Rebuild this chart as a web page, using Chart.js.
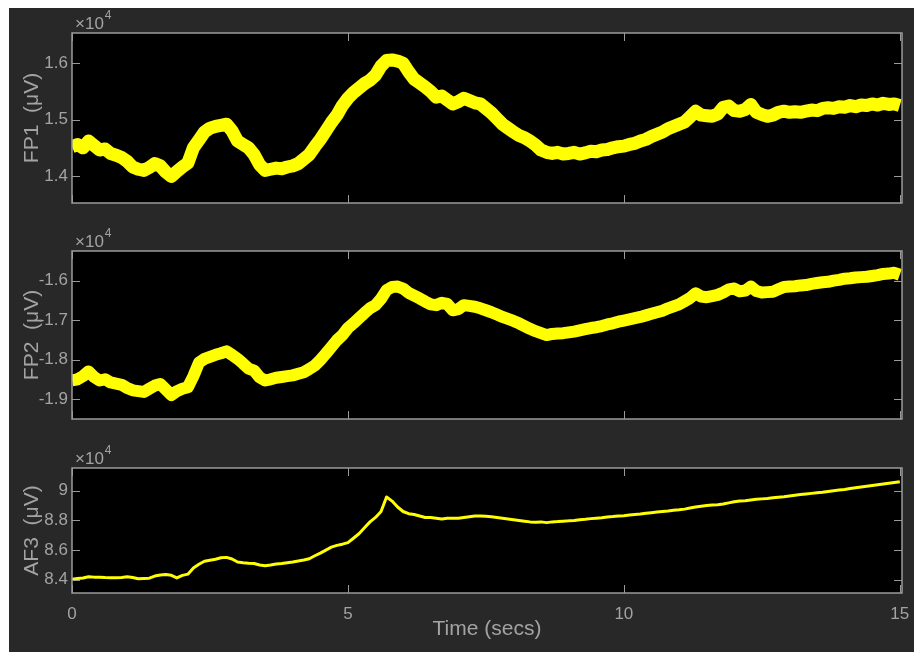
<!DOCTYPE html>
<html>
<head>
<meta charset="utf-8">
<title>EEG channels FP1 / FP2 / AF3</title>
<script src="https://cdn.jsdelivr.net/npm/chart.js@4/dist/chart.umd.min.js"></script>
<style>
	html, body { margin: 0; padding: 0; background: #ffffff; overflow: hidden; }
	#figure { position: absolute; left: 9px; top: 8px; width: 905px; height: 644px; background: #282828; }
	canvas { position: absolute; left: 0; }
</style>
</head>
<body>
<div id="figure"></div>
<canvas id="chartFP1" width="914" height="220" style="top:0px"></canvas>
<canvas id="chartFP2" width="914" height="220" style="top:220px"></canvas>
<canvas id="chartAF3" width="914" height="212" style="top:440px"></canvas>
<script>
/**
 * Three EEG channels, 15 seconds, drawn like a MATLAB dark figure.
 */

// Time (secs), one reading every 0.1 s
var TIME = [
	0, 0.1, 0.2, 0.3, 0.4, 0.5, 0.6, 0.7, 0.8, 0.9,
	1, 1.1, 1.2, 1.3, 1.4, 1.5, 1.6, 1.7, 1.8, 1.9,
	2, 2.1, 2.2, 2.3, 2.4, 2.5, 2.6, 2.7, 2.8, 2.9,
	3, 3.1, 3.2, 3.3, 3.4, 3.5, 3.6, 3.7, 3.8, 3.9,
	4, 4.1, 4.2, 4.3, 4.4, 4.5, 4.6, 4.7, 4.8, 4.9,
	5, 5.1, 5.2, 5.3, 5.4, 5.5, 5.6, 5.7, 5.8, 5.9,
	6, 6.1, 6.2, 6.3, 6.4, 6.5, 6.6, 6.7, 6.8, 6.9,
	7, 7.1, 7.2, 7.3, 7.4, 7.5, 7.6, 7.7, 7.8, 7.9,
	8, 8.1, 8.2, 8.3, 8.4, 8.5, 8.6, 8.7, 8.8, 8.9,
	9, 9.1, 9.2, 9.3, 9.4, 9.5, 9.6, 9.7, 9.8, 9.9,
	10, 10.1, 10.2, 10.3, 10.4, 10.5, 10.6, 10.7, 10.8, 10.9,
	11, 11.1, 11.2, 11.3, 11.4, 11.5, 11.6, 11.7, 11.8, 11.9,
	12, 12.1, 12.2, 12.3, 12.4, 12.5, 12.6, 12.7, 12.8, 12.9,
	13, 13.1, 13.2, 13.3, 13.4, 13.5, 13.6, 13.7, 13.8, 13.9,
	14, 14.1, 14.2, 14.3, 14.4, 14.5, 14.6, 14.7, 14.8, 14.9,
	15
];

// FP1 (uV)
var FP1 = [
	14520, 14560, 14500, 14620, 14540, 14460, 14480, 14400, 14370, 14330,
	14260, 14160, 14120, 14100, 14150, 14220, 14180, 14070, 13990, 14080,
	14160, 14230, 14500, 14640, 14780, 14850, 14880, 14900, 14920, 14800,
	14620, 14560, 14500, 14380, 14200, 14100, 14120, 14140, 14130, 14160,
	14180, 14220, 14300, 14380, 14520, 14650, 14800, 14950, 15080, 15250,
	15380, 15480, 15560, 15640, 15700, 15790, 15950, 16050, 16060, 16040,
	16000, 15850, 15720, 15650, 15580, 15500, 15400, 15420, 15350, 15280,
	15320, 15380, 15340, 15300, 15280, 15200, 15120, 15020, 14920, 14850,
	14780, 14720, 14680, 14620, 14550, 14460, 14420, 14400, 14420, 14390,
	14400, 14420, 14390, 14410, 14440, 14430, 14460, 14470, 14500, 14520,
	14530, 14560, 14580, 14620, 14650, 14700, 14740, 14780, 14840, 14880,
	14920, 14960, 15050, 15150, 15080, 15070, 15060, 15100, 15220, 15240,
	15160, 15150, 15180, 15270, 15130, 15090, 15060, 15080, 15130, 15150,
	15130, 15140, 15130, 15150, 15170, 15160, 15200, 15210, 15200, 15230,
	15220, 15250, 15230, 15260, 15250, 15280, 15260, 15290, 15270, 15280,
	15250
];

// FP2 (uV)
var FP2 = [
	-18530, -18500, -18420, -18300, -18440, -18530, -18500, -18580, -18610, -18640,
	-18720, -18780, -18800, -18820, -18740, -18660, -18620, -18760, -18900, -18800,
	-18740, -18700, -18420, -18080, -17980, -17930, -17880, -17840, -17790, -17880,
	-17980, -18100, -18230, -18280, -18450, -18530, -18500, -18460, -18440, -18420,
	-18400, -18360, -18320, -18240, -18150, -18010, -17850, -17680, -17510, -17380,
	-17200, -17080, -16950, -16820, -16700, -16620, -16460, -16240, -16160, -16150,
	-16200, -16310, -16380, -16450, -16530, -16600, -16620, -16560, -16590, -16750,
	-16720, -16620, -16640, -16660, -16700, -16750, -16800, -16860, -16920, -16970,
	-17020, -17080, -17150, -17220, -17280, -17330, -17380, -17350, -17340, -17330,
	-17310, -17290, -17260, -17230, -17200, -17180, -17150, -17110, -17080, -17040,
	-17010, -16980, -16950, -16920, -16880, -16840, -16800, -16760, -16700, -16650,
	-16600, -16520, -16440, -16320, -16400, -16420, -16390, -16360, -16300, -16220,
	-16200, -16270, -16250, -16150, -16260, -16300, -16290, -16280, -16220, -16160,
	-16150, -16140, -16120, -16110, -16080, -16060, -16040, -16030, -16000, -15980,
	-15950, -15940, -15920, -15910, -15900, -15880, -15860, -15830, -15820, -15800,
	-15850
];

// AF3 (uV)
var AF3 = [
	84030, 84080, 84120, 84210, 84180, 84170, 84150, 84140, 84130, 84160,
	84200, 84150, 84070, 84090, 84110, 84250, 84320, 84360, 84300, 84130,
	84300, 84380, 84800, 85050, 85250, 85320, 85380, 85480, 85510, 85400,
	85200, 85150, 85120, 85100, 85000, 84950, 85000, 85070, 85100, 85150,
	85200, 85270, 85330, 85420, 85620, 85800, 86000, 86200, 86320, 86400,
	86500, 86800, 87100, 87500, 87900, 88200, 88600, 89580, 89300, 88900,
	88600, 88450, 88400, 88300, 88200, 88200, 88150, 88100, 88150, 88150,
	88150, 88200, 88250, 88300, 88300, 88280, 88250, 88200, 88150, 88100,
	88050, 88000, 87950, 87900, 87880, 87900, 87850, 87900, 87920, 87950,
	87970, 88000, 88050, 88080, 88120, 88150, 88180, 88230, 88260, 88300,
	88320, 88360, 88400, 88430, 88480, 88520, 88560, 88600, 88640, 88690,
	88720, 88760, 88830, 88900, 88950, 89000, 89030, 89060, 89100, 89180,
	89250, 89300, 89320, 89380, 89420, 89450, 89480, 89520, 89560, 89600,
	89650, 89700, 89740, 89780, 89820, 89860, 89900, 89950, 90000, 90040,
	90080, 90150, 90200, 90250, 90300, 90350, 90400, 90450, 90500, 90550,
	90600
];

// Tick values
var TIME_TICKS = [0, 5, 10, 15];
var FP1_TICKS = [14000, 15000, 16000];
var FP2_TICKS = [-19000, -18000, -17000, -16000];
var AF3_TICKS = [84000, 86000, 88000, 90000];

var AXIS_COLOR = '#9a9a9a';
var TEXT_COLOR = '#a3a3a3';
var FONT_FAMILY = '"Liberation Sans", Arial, Helvetica, sans-serif';

/**
 * Black plot box, frame with inward ticks on all four sides and the x10^4 exponent.
 */
var matlabAxes = {
	id: 'matlabAxes',
	beforeDraw: function (chart) {
		var a = chart.chartArea, ctx = chart.ctx;
		ctx.save();
		ctx.fillStyle = '#000000';
		ctx.fillRect(a.left, a.top, a.right - a.left, a.bottom - a.top);
		ctx.restore();
	},
	afterDraw: function (chart, args, opts) {
		var a = chart.chartArea, ctx = chart.ctx;
		var xs = chart.scales.x, ys = chart.scales.y;
		ctx.save();
		ctx.strokeStyle = AXIS_COLOR;
		ctx.lineWidth = 1.5;
		ctx.strokeRect(a.left, a.top, a.right - a.left, a.bottom - a.top);

		ctx.beginPath();
		opts.yTicks.forEach(function (v) {
			var py = Math.round(ys.getPixelForValue(v)) + 0.5;
			ctx.moveTo(a.left, py); ctx.lineTo(a.left + 8, py);
			ctx.moveTo(a.right, py); ctx.lineTo(a.right - 8, py);
		});
		TIME_TICKS.forEach(function (v) {
			var px = Math.round(xs.getPixelForValue(v)) + 0.5;
			ctx.moveTo(px, a.top); ctx.lineTo(px, a.top + 8);
			ctx.moveTo(px, a.bottom); ctx.lineTo(px, a.bottom - 8);
		});
		ctx.lineWidth = 1;
		ctx.stroke();

		// exponent label above the box
		ctx.fillStyle = TEXT_COLOR;
		ctx.textBaseline = 'alphabetic';
		ctx.textAlign = 'left';
		ctx.font = '17px ' + FONT_FAMILY;
		ctx.fillText('\u00d710', a.left + 3, a.top - 4);
		var w = ctx.measureText('\u00d710').width;
		ctx.font = '12px ' + FONT_FAMILY;
		ctx.fillText('4', a.left + 4 + w, a.top - 14);
		ctx.restore();
	}
};

function toPoints(xs, ys) {
	return xs.map(function (x, i) { return {x: x, y: ys[i]}; });
}

function tickLabel(v) {
	return String(+(v / 10000).toFixed(1));
}

/**
 * One channel panel. pad = layout padding, chart area is fixed by it.
 */
function buildPanel(canvasId, values, yMin, yMax, yTicks, yTitle, lineWidth, pad, showTime) {
	var ctx = document.getElementById(canvasId);
	return new Chart(ctx, {
		type: 'line',
		data: {
			datasets: [{
				data: toPoints(TIME, values),
				borderColor: '#ffff00',
				borderWidth: lineWidth,
				pointRadius: 0,
				tension: 0,
				borderJoinStyle: 'round',
				clip: 0
			}]
		},
		options: {
			responsive: false,
			animation: false,
			events: [],
			layout: { padding: pad },
			plugins: {
				legend: { display: false },
				tooltip: { enabled: false },
				matlabAxes: { yTicks: yTicks }
			},
			scales: {
				x: {
					type: 'linear',
					display: showTime,
					min: 0,
					max: 15.04,
					afterBuildTicks: function (scale) {
						scale.ticks = TIME_TICKS.map(function (v) { return {value: v}; });
					},
					// only the bottom panel keeps room for the time axis
					afterFit: function (scale) { scale.height = showTime ? 59 : 0; },
					grid: { display: false },
					border: { display: false },
					ticks: {
						color: TEXT_COLOR,
						padding: 3,
						maxRotation: 0,
						font: { family: FONT_FAMILY, size: 17 }
					},
					title: {
						display: true,
						text: 'Time (secs)',
						color: TEXT_COLOR,
						padding: { top: 0, bottom: 10 },
						font: { family: FONT_FAMILY, size: 21 }
					}
				},
				y: {
					type: 'linear',
					min: yMin,
					max: yMax,
					afterBuildTicks: function (scale) {
						scale.ticks = yTicks.map(function (v) { return {value: v}; });
					},
					afterFit: function (scale) { scale.width = 72; },
					grid: { display: false, drawTicks: false },
					border: { display: false },
					ticks: {
						color: TEXT_COLOR,
						padding: 4,
						callback: tickLabel,
						font: { family: FONT_FAMILY, size: 17 }
					},
					title: {
						display: true,
						text: yTitle,
						color: TEXT_COLOR,
						padding: { top: 20, bottom: 0 },
						font: { family: FONT_FAMILY, size: 21 }
					}
				}
			}
		},
		plugins: [matlabAxes]
	});
}

buildPanel('chartFP1', FP1, 13521, 16538, FP1_TICKS, 'FP1  (\u03bcV)', 13,
	{ left: 0, right: 12, top: 33, bottom: 17 }, false);
buildPanel('chartFP2', FP2, -19506, -15248, FP2_TICKS, 'FP2  (\u03bcV)', 12,
	{ left: 0, right: 12, top: 31, bottom: 21 }, false);
buildPanel('chartAF3', AF3, 83111, 91529, AF3_TICKS, 'AF3  (\u03bcV)', 3,
	{ left: 0, right: 12, top: 28, bottom: 0 }, true);
</script>
</body>
</html>
